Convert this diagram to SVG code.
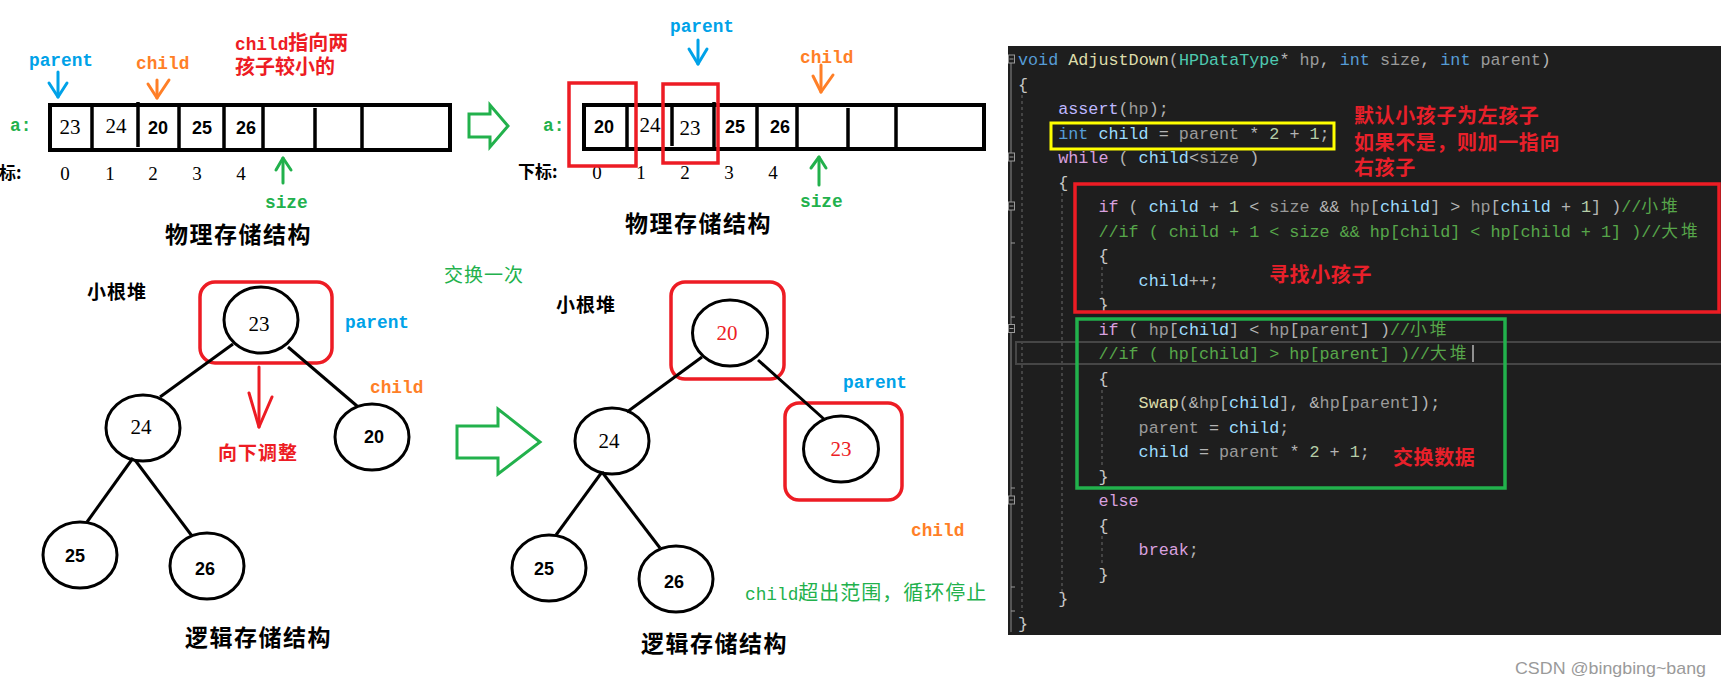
<svg xmlns="http://www.w3.org/2000/svg" width="1721" height="687" viewBox="0 0 1721 687">
<style>
.bg{fill:#ffffff}
.box{fill:none;stroke:#000;stroke-width:4}
.div{stroke:#000;stroke-width:3.5}
.node{fill:#fff;stroke:#000;stroke-width:3}
.hl{fill:none;stroke:#ed1c24;stroke-width:3.5}
.edge{stroke:#000;stroke-width:3;fill:none}
.ns{font-family:"Liberation Serif",serif;font-size:21px;fill:#000;text-anchor:middle}
.nb{font-family:"Liberation Sans",sans-serif;font-weight:bold;font-size:18px;fill:#000;text-anchor:middle}
.idx{font-family:"Liberation Serif",serif;font-size:19px;fill:#000;text-anchor:middle}
.lbl{font-family:"Liberation Mono",monospace;font-weight:bold;font-size:17.8px}
.blue{fill:#00a2e8}
.orange{fill:#ff7f27}
.green{fill:#22b14c}
.red{fill:#ed1c24}
.cjk{font-family:"Noto Sans CJK SC",sans-serif;font-weight:bold}
.cjkn{font-family:"Noto Sans CJK SC",sans-serif;font-weight:normal}
.title{font-family:"Noto Sans CJK SC",sans-serif;font-weight:bold;font-size:23px;fill:#000;letter-spacing:1.5px}
.ab{stroke-width:3;fill:none;stroke-linecap:round;stroke-linejoin:round}
.code{font-family:"Liberation Mono","Noto Sans CJK SC",monospace;font-size:16.75px;fill:#b4b4b4}
.kw{fill:#569cd6}.ctl{fill:#d8a0df}.fn{fill:#dcdcaa}.ty{fill:#4ec9b0}.pm{fill:#9a9a9a}.var{fill:#9cdcfe}.num{fill:#b5cea8}.cm{fill:#57a64a}.mac{fill:#beb7ff}.br{fill:#c8c8c8}
.guide{stroke:#6a6a6a;stroke-width:1;stroke-dasharray:3 3}
.ann{font-family:"Noto Sans CJK SC",sans-serif;font-weight:bold;font-size:20px;fill:#e8202a;letter-spacing:0.6px}
</style>
<rect class="bg" x="0" y="0" width="1721" height="687"/>

<!-- array 1 -->
<g id="array1">
<rect class="box" x="50" y="105" width="400" height="45" fill="#fff"/>
<line class="div" x1="92" y1="105" x2="92" y2="150"/>
<line class="div" x1="138" y1="102" x2="138" y2="147"/>
<line class="div" x1="179" y1="105" x2="179" y2="150"/>
<line class="div" x1="224" y1="105" x2="224" y2="150"/>
<line class="div" x1="263" y1="105" x2="263" y2="150"/>
<line class="div" x1="315" y1="108" x2="315" y2="150"/>
<line class="div" x1="362" y1="105" x2="362" y2="150"/>
<text class="ns" x="70" y="134">23</text>
<text class="ns" x="116" y="133">24</text>
<text class="nb" x="158" y="134">20</text>
<text class="nb" x="202" y="134">25</text>
<text class="nb" x="246" y="134">26</text>
<text class="idx" x="65" y="180">0</text>
<text class="idx" x="110" y="180">1</text>
<text class="idx" x="153" y="180">2</text>
<text class="idx" x="197" y="180">3</text>
<text class="idx" x="241" y="180">4</text>
<text class="cjk" x="-18" y="179" font-size="17" fill="#000">下标:</text>
<text class="lbl green" x="10" y="131">a:</text>
<text class="lbl blue" x="29" y="66">parent</text>
<text class="lbl orange" x="136" y="69">child</text>
<text class="lbl green" x="265" y="208">size</text>
<text x="235" y="50" class="red"><tspan class="lbl">child</tspan><tspan class="cjk" font-size="20">指向两</tspan></text>
<text x="235" y="74" class="cjk red" font-size="20">孩子较小的</text>
<text class="title" x="165" y="243">物理存储结构</text>
</g>

<!-- array 2 -->
<g id="array2">
<rect class="box" x="584" y="105" width="400" height="44" fill="#fff"/>
<line class="div" x1="627" y1="105" x2="627" y2="149"/>
<line class="div" x1="672" y1="107" x2="672" y2="146"/>
<line class="div" x1="714" y1="102" x2="714" y2="149"/>
<line class="div" x1="757" y1="105" x2="757" y2="149"/>
<line class="div" x1="797" y1="105" x2="797" y2="149"/>
<line class="div" x1="848" y1="108" x2="848" y2="149"/>
<line class="div" x1="896" y1="105" x2="896" y2="149"/>
<text class="nb" x="604" y="133">20</text>
<text class="ns" x="650" y="132">24</text>
<text class="ns" x="690" y="135">23</text>
<text class="nb" x="735" y="133">25</text>
<text class="nb" x="780" y="133">26</text>
<text class="idx" x="597" y="179">0</text>
<text class="idx" x="641" y="179">1</text>
<text class="idx" x="685" y="179">2</text>
<text class="idx" x="729" y="179">3</text>
<text class="idx" x="773" y="179">4</text>
<text class="cjk" x="518" y="178" font-size="17" fill="#000">下标:</text>
<text class="lbl green" x="543" y="131">a:</text>
<text class="lbl blue" x="670" y="32">parent</text>
<text class="lbl orange" x="800" y="63">child</text>
<text class="lbl green" x="800" y="207">size</text>
<rect class="hl" x="569" y="83" width="67" height="83"/>
<rect class="hl" x="663" y="84" width="55" height="79"/>
<text class="title" x="625" y="232">物理存储结构</text>
</g>

<!-- tree 1 -->
<g id="tree1-root"><rect class="hl" x="200" y="282" width="132" height="81" rx="15"/><ellipse class="node" cx="261" cy="320" rx="37" ry="33"/><text class="ns" x="259" y="331">23</text></g>
<g id="tree1-n24"><ellipse class="node" cx="143" cy="428" rx="37" ry="33"/><text class="ns" x="141" y="434">24</text></g>
<g id="tree1-n20"><ellipse class="node" cx="372" cy="437" rx="37" ry="33"/><text class="nb" x="374" y="443">20</text></g>
<g id="tree1-n25"><ellipse class="node" cx="80" cy="555" rx="37" ry="33"/><text class="nb" x="75" y="562">25</text></g>
<g id="tree1-n26"><ellipse class="node" cx="207" cy="566" rx="37" ry="33"/><text class="nb" x="205" y="575">26</text></g>
<g id="tree1-labels">
<text class="cjk" x="87" y="299" font-size="19" fill="#000" letter-spacing="1">小根堆</text>
<text class="lbl blue" x="345" y="328">parent</text>
<text class="lbl orange" x="370" y="393">child</text>
<text class="cjk red" x="218" y="460" font-size="19" letter-spacing="1">向下调整</text>
<text class="title" x="185" y="646">逻辑存储结构</text>
</g>

<!-- tree 2 -->
<g id="tree2-root"><rect class="hl" x="671" y="282" width="113" height="97" rx="14"/><ellipse class="node" cx="730" cy="333" rx="37.5" ry="33"/><text class="ns" x="727" y="340" style="fill:#ed1c24">20</text></g>
<g id="tree2-n23"><rect class="hl" x="785" y="403" width="117" height="97" rx="14"/><ellipse class="node" cx="841" cy="449" rx="37.5" ry="33"/><text class="ns" x="841" y="456" style="fill:#ed1c24">23</text></g>
<g id="tree2-n24"><ellipse class="node" cx="612" cy="441" rx="37" ry="33"/><text class="ns" x="609" y="448">24</text></g>
<g id="tree2-n25"><ellipse class="node" cx="549" cy="568" rx="37" ry="33"/><text class="nb" x="544" y="575">25</text></g>
<g id="tree2-n26"><ellipse class="node" cx="676" cy="579" rx="37" ry="33"/><text class="nb" x="674" y="588">26</text></g>
<g id="tree2-labels">
<text class="cjkn green" x="444" y="282" font-size="19" letter-spacing="1">交换一次</text>
<text class="cjk" x="556" y="312" font-size="19" fill="#000" letter-spacing="1">小根堆</text>
<text class="lbl blue" x="843" y="388">parent</text>
<text class="lbl orange" x="911" y="536">child</text>
<text x="745" y="600" class="green"><tspan font-family="Liberation Mono, monospace" font-size="17.8">child</tspan><tspan class="cjkn" font-size="20" letter-spacing="1">超出范围，循环停止</tspan></text>
<text class="title" x="641" y="652">逻辑存储结构</text>
</g>

<!-- connectors -->
<g id="connectors">
<line class="edge" x1="233" y1="344" x2="160" y2="397"/>
<line class="edge" x1="288" y1="347" x2="357" y2="406"/>
<line class="edge" x1="133" y1="458" x2="87" y2="522"/>
<line class="edge" x1="135" y1="460" x2="192" y2="536"/>
<line class="edge" x1="702" y1="357" x2="627" y2="412"/>
<line class="edge" x1="758" y1="360" x2="825" y2="420"/>
<line class="edge" x1="602" y1="472" x2="556" y2="535"/>
<line class="edge" x1="602" y1="472" x2="660" y2="548"/>
<g stroke="#00a2e8" class="ab"><line x1="58" y1="72" x2="58" y2="97"/><polyline points="49,83 58,97 67,83"/><line x1="698" y1="40" x2="698" y2="64"/><polyline points="689,49 698,64 707,49"/></g>
<g stroke="#ff7f27" class="ab"><line x1="157" y1="80" x2="157" y2="98"/><polyline points="148,84 157,98 169,80"/><line x1="821" y1="65" x2="821" y2="92"/><polyline points="813,76 821,92 833,75"/></g>
<g stroke="#22b14c" class="ab"><line x1="283" y1="158" x2="283" y2="183"/><polyline points="276,170 283,158 291,170"/><line x1="819" y1="157" x2="819" y2="185"/><polyline points="811,168 819,157 826,168"/></g>
<g stroke="#ed1c24" class="ab"><line x1="259" y1="367" x2="259" y2="427"/><polyline points="249,393 259,427 272,397"/></g>
<polygon points="469,114 490,114 490,105 508,126 490,147 490,137 469,137" fill="#fff" stroke="#22b14c" stroke-width="3"/>
<polygon points="457,426 498,426 498,409 540,442 498,474 498,458 457,458" fill="#fff" stroke="#22b14c" stroke-width="3"/>
</g>

<!-- code panel -->
<g id="code-panel">
<rect x="1008" y="46" width="713" height="589" fill="#1e1e1e"/>
<line x1="1011" y1="63" x2="1011" y2="632" stroke="#8a8a8a" stroke-width="1"/>
<g fill="#1e1e1e" stroke="#9a9a9a" stroke-width="1">
<rect x="1008.5" y="55" width="6" height="8"/><rect x="1008.5" y="153" width="6" height="8"/><rect x="1008.5" y="202" width="6" height="8"/><rect x="1008.5" y="324.5" width="6" height="8"/><rect x="1008.5" y="496" width="6" height="8"/>
</g>
<g stroke="#9a9a9a" stroke-width="1">
<line x1="1009.5" y1="59" x2="1013.5" y2="59"/><line x1="1009.5" y1="157" x2="1013.5" y2="157"/><line x1="1009.5" y1="206" x2="1013.5" y2="206"/><line x1="1009.5" y1="328.5" x2="1013.5" y2="328.5"/><line x1="1009.5" y1="500" x2="1013.5" y2="500"/>
<line x1="1011" y1="243" x2="1015" y2="243"/><line x1="1011" y1="317" x2="1015" y2="317"/><line x1="1011" y1="488" x2="1015" y2="488"/><line x1="1011" y1="587" x2="1015" y2="587"/><line x1="1011" y1="611" x2="1015" y2="611"/>
</g>
<line class="guide" x1="1022" y1="95" x2="1022" y2="612"/>
<line class="guide" x1="1062" y1="193" x2="1062" y2="592"/>
<line class="guide" x1="1102" y1="267" x2="1102" y2="298"/>
<line class="guide" x1="1102" y1="390" x2="1102" y2="468"/>
<line class="guide" x1="1102" y1="536" x2="1102" y2="566"/>
<rect x="1016" y="342" width="707" height="22" fill="none" stroke="#464646" stroke-width="2"/>
<line x1="1473" y1="345" x2="1473" y2="362" stroke="#dcdcdc" stroke-width="1.2"/>
<g class="code" xml:space="preserve">
<text x="1018" y="65"><tspan class="kw">void</tspan> <tspan class="fn">AdjustDown</tspan>(<tspan class="ty">HPDataType</tspan>* <tspan class="pm">hp</tspan>, <tspan class="kw">int</tspan> <tspan class="pm">size</tspan>, <tspan class="kw">int</tspan> <tspan class="pm">parent</tspan>)</text>
<text x="1018" y="89.5" class="br">{</text>
<text x="1058.2" y="114"><tspan class="mac">assert</tspan>(<tspan class="pm">hp</tspan>);</text>
<text x="1058.2" y="138.5"><tspan class="kw">int</tspan> <tspan class="var">child</tspan> = <tspan class="pm">parent</tspan> * <tspan class="num">2</tspan> + <tspan class="num">1</tspan>;</text>
<text x="1058.2" y="163"><tspan class="ctl">while</tspan> ( <tspan class="var">child</tspan>&lt;<tspan class="pm">size</tspan> )</text>
<text x="1058.2" y="187.5" class="br">{</text>
<text x="1098.4" y="212"><tspan class="ctl">if</tspan> ( <tspan class="var">child</tspan> + <tspan class="num">1</tspan> &lt; <tspan class="pm">size</tspan> &amp;&amp; <tspan class="pm">hp</tspan>[<tspan class="var">child</tspan>] &gt; <tspan class="pm">hp</tspan>[<tspan class="var">child</tspan> + <tspan class="num">1</tspan>] )<tspan class="cm">//<tspan letter-spacing="3">小堆</tspan></tspan></text>
<text x="1098.4" y="236.5" class="cm">//if ( child + 1 &lt; size &amp;&amp; hp[child] &lt; hp[child + 1] )//<tspan letter-spacing="3">大堆</tspan></text>
<text x="1098.4" y="261" class="br">{</text>
<text x="1138.6" y="285.5"><tspan class="var">child</tspan>++;</text>
<text x="1098.4" y="310" class="br">}</text>
<text x="1098.4" y="334.5"><tspan class="ctl">if</tspan> ( <tspan class="pm">hp</tspan>[<tspan class="var">child</tspan>] &lt; <tspan class="pm">hp</tspan>[<tspan class="pm">parent</tspan>] )<tspan class="cm">//<tspan letter-spacing="3">小堆</tspan></tspan></text>
<text x="1098.4" y="359" class="cm">//if ( hp[child] &gt; hp[parent] )//<tspan letter-spacing="3">大堆</tspan></text>
<text x="1098.4" y="383.5" class="br">{</text>
<text x="1138.6" y="408"><tspan class="fn">Swap</tspan>(&amp;<tspan class="pm">hp</tspan>[<tspan class="var">child</tspan>], &amp;<tspan class="pm">hp</tspan>[<tspan class="pm">parent</tspan>]);</text>
<text x="1138.6" y="432.5"><tspan class="pm">parent</tspan> = <tspan class="var">child</tspan>;</text>
<text x="1138.6" y="457"><tspan class="var">child</tspan> = <tspan class="pm">parent</tspan> * <tspan class="num">2</tspan> + <tspan class="num">1</tspan>;</text>
<text x="1098.4" y="481.5" class="br">}</text>
<text x="1098.4" y="506" class="ctl">else</text>
<text x="1098.4" y="530.5" class="br">{</text>
<text x="1138.6" y="555"><tspan class="ctl">break</tspan>;</text>
<text x="1098.4" y="579.5" class="br">}</text>
<text x="1058.2" y="604" class="br">}</text>
<text x="1018" y="628.5" class="br">}</text>
</g>
<rect x="1051" y="123" width="283" height="26" fill="none" stroke="#ffff00" stroke-width="3"/>
<rect x="1075" y="184" width="644" height="128" fill="none" stroke="#ed1c24" stroke-width="3.5"/>
<rect x="1077" y="319" width="428" height="169" fill="none" stroke="#22b14c" stroke-width="3.5"/>
<text class="ann" x="1354" y="122.5">默认小孩子为左孩子</text>
<text class="ann" x="1354" y="149.5">如果不是，则加一指向</text>
<text class="ann" x="1354" y="174.5">右孩子</text>
<text class="ann" x="1269" y="282">寻找小孩子</text>
<text class="ann" x="1393" y="465">交换数据</text>
</g>
<text x="1515" y="674" font-family="Liberation Sans, sans-serif" font-size="17" fill="#9a9a9a" textLength="191" lengthAdjust="spacingAndGlyphs">CSDN @bingbing~bang</text>
</svg>
